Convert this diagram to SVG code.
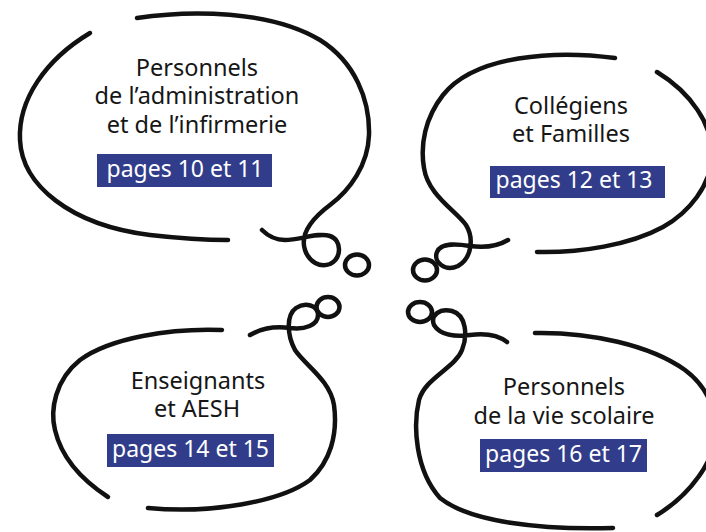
<svg xmlns="http://www.w3.org/2000/svg" width="706" height="532" viewBox="0 0 706 532">
<style>
.line{fill:none;stroke:#111;stroke-width:4.5;stroke-linecap:round;stroke-linejoin:round}
.t{font-family:"Noto Sans","Open Sans",sans-serif;font-size:23.5px;fill:#161616;text-anchor:middle}
.p{font-family:"Noto Sans","Open Sans",sans-serif;font-size:23px;fill:#ffffff;text-anchor:middle}
.box{fill:#313d8a}
</style>
<rect width="706" height="532" fill="#ffffff"/>
<g id="bubble-administration">
<path class="line" d="M90,33 C45,60 18,100 20,140 C22,185 70,225 150,235 C185,239 210,240 228,240"/>
<path class="line" d="M137,18 C190,10 270,10 320,40 C355,62 370,100 369,135 C368,165 350,190 330,205 C310,220 300,235 305,250 C309,262 320,268 330,264 C342,258 342,240 330,236 C318,232 300,240 285,240 C275,240 268,236 262,230"/>
<ellipse class="line" cx="357" cy="265" rx="12" ry="10.5"/>
<text class="t" x="197" y="76">Personnels</text>
<text class="t" x="197" y="104">de l’administration</text>
<text class="t" x="197" y="133">et de l’infirmerie</text>
<rect class="box" x="97" y="154" width="175" height="33"/>
<text class="p" x="185" y="177">pages 10 et 11</text>
</g>
<g id="bubble-collegiens">
<path class="line" d="M615,58 C555,50 475,55 443,95 C425,118 420,145 424,168 C428,195 455,210 466,225 C474,238 472,258 458,266 C445,272 433,262 437,252 C441,242 458,244 470,246 C485,248 498,246 508,240"/>
<path class="line" d="M537,252 C580,253 630,245 663,227 C690,212 710,185 712,158 C714,125 690,92 657,72"/>
<ellipse class="line" cx="425" cy="270" rx="12" ry="10.5"/>
<text class="t" x="571" y="114">Collégiens</text>
<text class="t" x="571" y="142">et Familles</text>
<rect class="box" x="490" y="166" width="175" height="32"/>
<text class="p" x="574" y="188">pages 12 et 13</text>
</g>
<g id="bubble-enseignants">
<path class="line" d="M222,330 C170,328 110,338 80,360 C55,380 50,410 55,430 C62,460 85,482 108,497"/>
<path class="line" d="M250,335 C262,328 275,326 290,328 C305,330 318,325 318,315 C318,305 305,302 296,308 C286,315 287,335 295,350 C305,365 330,380 334,405 C338,435 330,462 310,480 C280,502 210,514 148,508"/>
<ellipse class="line" cx="328" cy="307" rx="11.5" ry="10"/>
<text class="t" x="198" y="389">Enseignants</text>
<text class="t" x="197" y="417">et AESH</text>
<rect class="box" x="107" y="434" width="167" height="33"/>
<text class="p" x="190.5" y="457">pages 14 et 15</text>
</g>
<g id="bubble-vie-scolaire">
<path class="line" d="M535,333 C590,332 650,345 685,370 C705,385 715,405 716,430 C716,460 690,495 657,515"/>
<path class="line" d="M507,342 C498,335 485,333 470,335 C455,337 440,335 434,325 C430,315 440,308 452,311 C466,315 468,335 462,350 C455,368 425,378 419,400 C413,425 415,470 440,498 C470,522 540,530 613,528"/>
<ellipse class="line" cx="420" cy="312" rx="12" ry="10"/>
<text class="t" x="564" y="395">Personnels</text>
<text class="t" x="564" y="424">de la vie scolaire</text>
<rect class="box" x="480" y="439" width="167" height="33"/>
<text class="p" x="563.5" y="462">pages 16 et 17</text>
</g>
<g id="connectors"/>
</svg>
